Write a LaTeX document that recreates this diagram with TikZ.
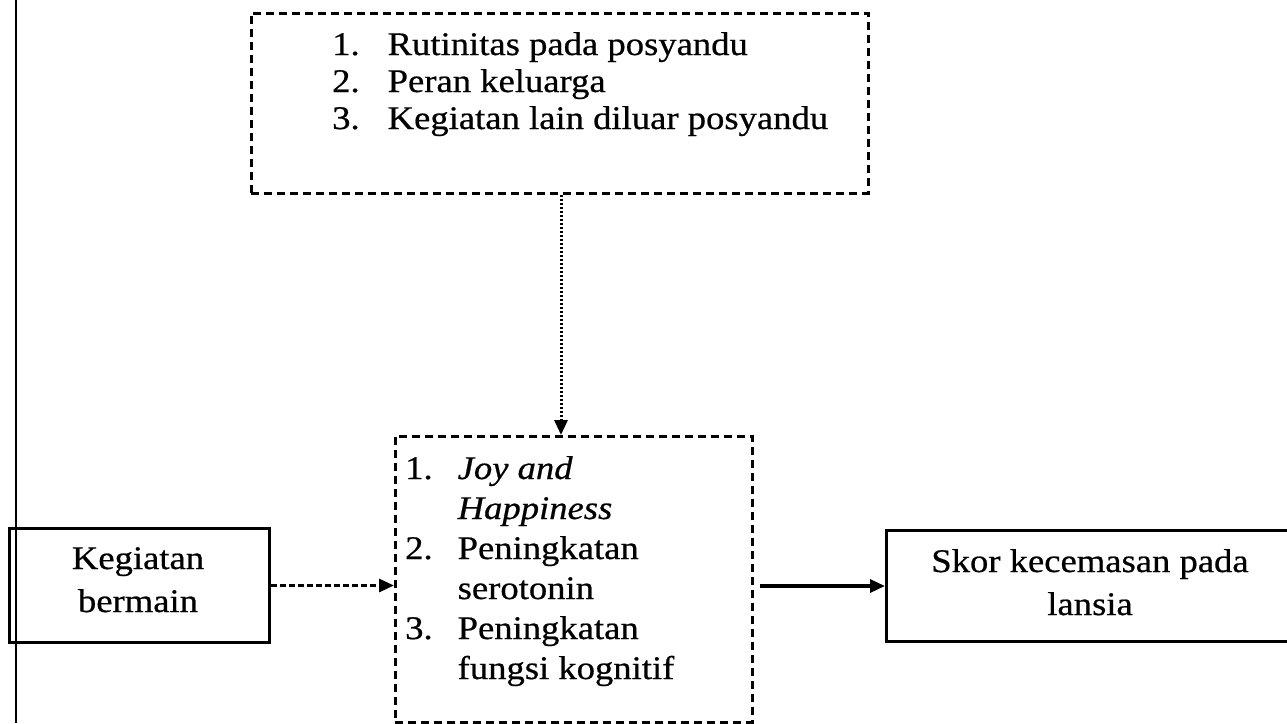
\documentclass[tikz,border=0pt]{standalone}
\usepackage{fontspec}
\setmainfont[FakeStretch=1.11, FakeBold=0.6]{Liberation Serif}
\usetikzlibrary{arrows.meta}
\begin{document}
\begin{tikzpicture}[x=1pt,y=-1pt,
  solidbox/.style={draw, line width=3pt, rectangle, inner sep=0pt, anchor=north west},
  dashbox/.style={draw, line width=2.8pt, rectangle, inner sep=0pt, anchor=north west, dash pattern=on 8pt off 5pt},
  txt/.style={inner sep=0pt, font=\fontsize{33}{40}\selectfont},
  tip/.style={-{Triangle[length=15pt,width=13pt]}},
  dashedarrow/.style={tip, line width=3pt, dash pattern=on 6pt off 3pt},
  dottedarrow/.style={tip, line width=3pt, dash pattern=on 2.5pt off 1.5pt},
  solidarrow/.style={tip, line width=3.2pt}
]
\useasboundingbox (0,0) rectangle (1287,723);
\fill[white] (0,0) rectangle (1287,723);
\clip (0,0) rectangle (1287,723);

% left margin line
\coordinate (lt) at (16,0);
\coordinate (lb) at (16,723);
\draw[line width=2.4pt] (lt) -- (lb);

% boxes
\node[dashbox, minimum width=617pt, minimum height=180pt] (top) at (250,12) {};
\node[dashbox, minimum width=357pt, minimum height=286pt] (mid) at (394,435) {};
\node[solidbox, minimum width=260pt, minimum height=114pt] (left) at (8,527) {};
\node[solidbox, minimum width=420pt, minimum height=111pt] (right) at (885,529) {};

% texts
\node[txt, font=\fontsize{33}{37}\selectfont, anchor=base west] (toptext) at (332,55)
  {\begin{tabular}[t]{@{}l@{\hspace{28pt}}l@{}}
   1. & Rutinitas pada posyandu\\
   2. & Peran keluarga\\
   3. & Kegiatan lain diluar posyandu
   \end{tabular}};
\node[txt, anchor=base west] (midtext) at (405,479)
  {\begin{tabular}[t]{@{}l@{\hspace{25pt}}l@{}}
   1. & \textit{Joy and}\\
      & \textit{Happiness}\\
   2. & Peningkatan\\
      & serotonin\\
   3. & Peningkatan\\
      & fungsi kognitif
   \end{tabular}};
\node[txt, anchor=base] (lefttext) at (138,569)
  {\begin{tabular}[t]{@{}c@{}}Kegiatan\\[3pt] bermain\end{tabular}};
\node[txt, anchor=base] (righttext) at (1090,572)
  {\begin{tabular}[t]{@{}c@{}}Skor kecemasan pada\\[3pt] lansia\end{tabular}};

% connectors
\coordinate (dv) at (561,0);
\draw[dottedarrow] (top.south -| dv) -- (mid.north -| dv);
\draw[dashedarrow] (left.east) -- (mid.west |- left.east);
\draw[solidarrow] (mid.east |- right.west) ++(6,0) -- (right.west);
\end{tikzpicture}
\end{document}
